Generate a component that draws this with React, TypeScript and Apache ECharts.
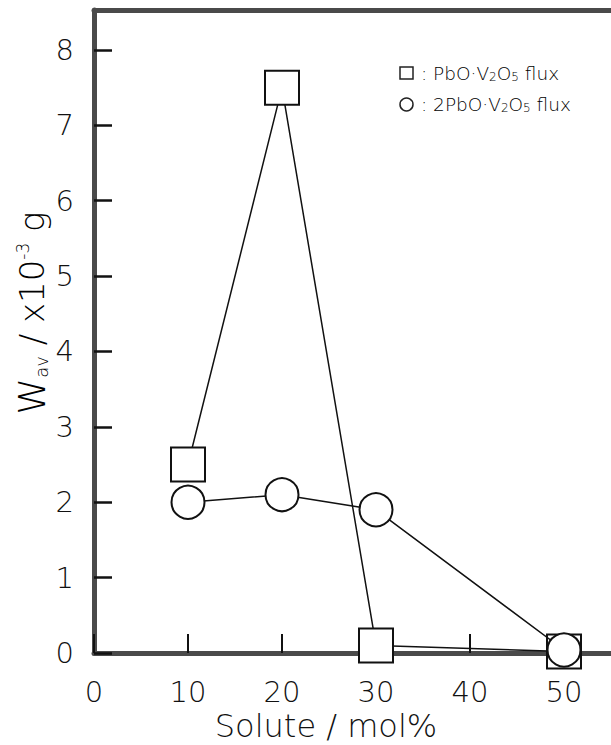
import React, { useEffect, useRef } from "react";
import * as echarts from "echarts";

const xTicks = [0, 10, 20, 30, 40, 50];
const yTicks = [0, 1, 2, 3, 4, 5, 6, 7, 8];
const pbo1Solute = [10, 20, 30, 50];
const pbo1Wav = [2.5, 7.5, 0.1, 0.02];
const pbo2Solute = [10, 20, 30, 50];
const pbo2Wav = [2.0, 2.1, 1.9, 0.04];
const legend1 = ["PbO·V", "2", "O", "5", " flux"];
const legend2 = ["2PbO·V", "2", "O", "5", " flux"];

const font = "'DejaVu Sans', sans-serif";

export default function App() {
  const ref = useRef<HTMLDivElement>(null);
  useEffect(() => {
    if (!ref.current) return;
    const chart = echarts.init(ref.current, undefined, { renderer: "svg" });
    const axisColor = "#4a4a4a";
    const legendRich = {
      n: { fontSize: 18.5, fontFamily: font, fontWeight: 300, color: "#111", lineHeight: 20, verticalAlign: "middle" },
      s: { fontSize: 12, fontFamily: font, fontWeight: 300, color: "#111", lineHeight: 11, verticalAlign: "bottom" },
    };
    const legendText = (parts: string[]) =>
      `{n|: ${parts[0]}}{s|${parts[1]}}{n|${parts[2]}}{s|${parts[3]}}{n|${parts[4]}}`;
    chart.setOption({
      animation: false,
      backgroundColor: "#fff",
      grid: { left: 94, top: 10, bottom: 92, right: -6, show: false, containLabel: false },
      xAxis: [
        {
          type: "value",
          min: 0,
          max: 55,
          interval: 10,
          axisLine: { show: true, onZero: false, lineStyle: { color: axisColor, width: 5 } },
          axisTick: { show: true, inside: true, length: 19, lineStyle: { color: "#111", width: 2 } },
          splitLine: { show: false },
          axisLabel: {
            margin: 24,
            fontSize: 29,
            fontFamily: font,
            fontWeight: 300,
            color: "#111",
            showMaxLabel: false,
            formatter: (v: number) => (xTicks.includes(v) ? String(v) : ""),
          },
        },
        {
          type: "value",
          position: "top",
          min: 0,
          max: 55,
          axisLine: { show: true, onZero: false, lineStyle: { color: axisColor, width: 5 } },
          axisTick: { show: false },
          axisLabel: { show: false },
          splitLine: { show: false },
        },
      ],
      yAxis: {
        type: "value",
        min: 0,
        max: 8.53,
        interval: 1,
        axisLine: { show: true, onZero: false, lineStyle: { color: axisColor, width: 5 } },
        axisTick: { show: true, inside: true, length: 18, lineStyle: { color: "#111", width: 2.5 } },
        splitLine: { show: false },
        axisLabel: {
          margin: 20,
          fontSize: 29,
          fontFamily: font,
          fontWeight: 300,
          color: "#111",
          showMaxLabel: false,
          formatter: (v: number) => (yTicks.includes(v) ? String(v) : ""),
        },
      },
      series: [
        {
          type: "line",
          xAxisIndex: 0,
          data: pbo1Solute.map((x, i) => [x, pbo1Wav[i]]),
          symbol: "rect",
          symbolSize: 34,
          lineStyle: { color: "#111", width: 1.5 },
          itemStyle: { color: "#fff", borderColor: "#111", borderWidth: 2 },
          z: 2,
        },
        {
          type: "line",
          xAxisIndex: 0,
          data: pbo2Solute.map((x, i) => [x, pbo2Wav[i]]),
          symbol: "circle",
          symbolSize: 33,
          lineStyle: { color: "#111", width: 1.5 },
          itemStyle: { color: "#fff", borderColor: "#111", borderWidth: 2 },
          z: 3,
        },
      ],
      graphic: [
        { type: "rect", shape: { x: 400, y: 67, width: 13, height: 12 }, style: { fill: "#fff", stroke: "#222", lineWidth: 1.5 } },
        { type: "circle", shape: { cx: 406.5, cy: 104.5, r: 6.5 }, style: { fill: "#fff", stroke: "#222", lineWidth: 1.5 } },
        { type: "text", x: 421, y: 73, style: { text: legendText(legend1), rich: legendRich, verticalAlign: "middle" } },
        { type: "text", x: 421, y: 104, style: { text: legendText(legend2), rich: legendRich, verticalAlign: "middle" } },
        {
          type: "text",
          x: 32,
          y: 313,
          rotation: Math.PI / 2,
          style: {
            text: "{w|W}{sub|av}{n| / x10}{sup|-3}{n| g}",
            align: "center",
            verticalAlign: "middle",
            rich: {
              w: { fontSize: 37, fontFamily: font, fontWeight: 300, color: "#111", lineHeight: 36, verticalAlign: "middle" },
              sub: { fontSize: 18, fontFamily: font, fontWeight: 300, color: "#111", lineHeight: 18, verticalAlign: "bottom" },
              n: { fontSize: 34, fontFamily: font, fontWeight: 300, color: "#111", lineHeight: 36, verticalAlign: "middle" },
              sup: { fontSize: 17, fontFamily: font, fontWeight: 300, color: "#111", lineHeight: 17, verticalAlign: "top" },
            },
          },
        },
        {
          type: "text",
          x: 326,
          y: 726,
          style: {
            text: "Solute / mol%",
            align: "center",
            verticalAlign: "middle",
            fontSize: 32,
            fontFamily: font,
            fontWeight: 300,
            fill: "#111",
          },
        },
      ],
    });
    return () => chart.dispose();
  }, []);
  return (
    <div
      ref={ref}
      style={{ position: "fixed", left: 0, top: 0, width: 611, height: 745, background: "#fff" }}
    />
  );
}
